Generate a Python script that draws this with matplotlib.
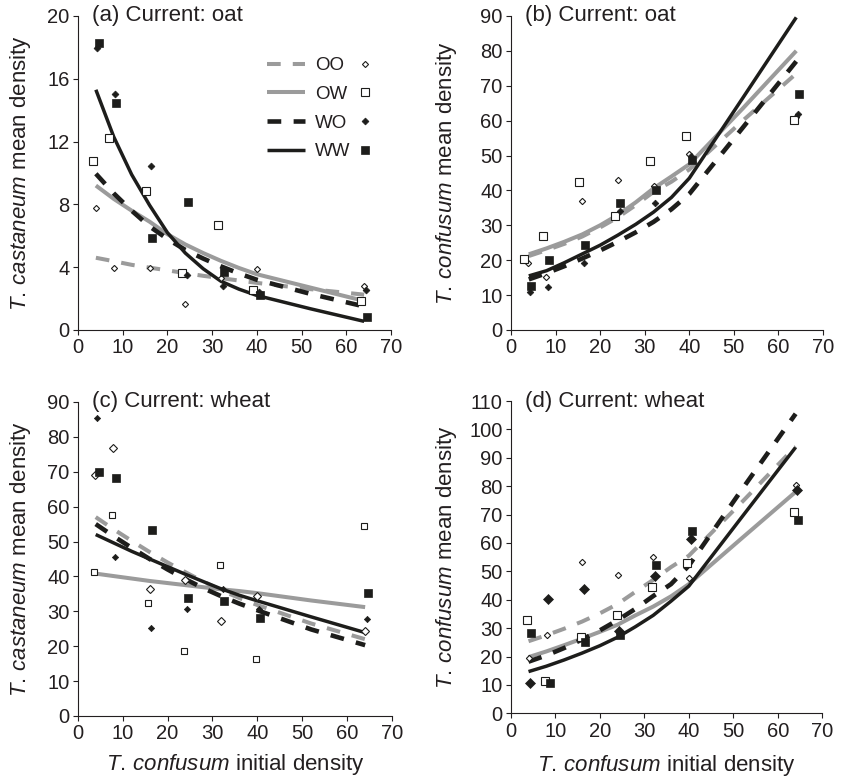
import matplotlib
matplotlib.use('Agg')
import matplotlib.pyplot as plt
from matplotlib.lines import Line2D

plt.rcParams['font.family'] = ['Liberation Sans', 'DejaVu Sans']
plt.rcParams['mathtext.fontset'] = 'custom'
plt.rcParams['mathtext.it'] = 'Liberation Sans:italic'
plt.rcParams['mathtext.rm'] = 'Liberation Sans'

# ---------------- data ----------------
treatments = ['OO', 'OW', 'WO', 'WW']
line_x = [4, 8, 12, 16, 20, 24, 28, 32, 36, 40, 52, 64]

# panel (a): T. castaneum, current oat
a_OO_x = [4.0, 8.0, 16.0, 24.0, 32.0, 40.0, 64.0]
a_OO_y = [7.75, 3.97, 3.97, 1.68, 3.3, 3.9, 2.82]
a_OW_x = [3.35, 7.0, 15.3, 23.2, 31.3, 39.2, 63.3]
a_OW_y = [10.76, 12.25, 8.87, 3.65, 6.67, 2.53, 1.87]
a_WO_x = [4.2, 8.3, 16.3, 24.3, 32.4, 40.4, 64.4]
a_WO_y = [17.94, 15.05, 10.47, 3.48, 2.8, 2.4, 2.55]
a_WW_x = [4.6, 8.6, 16.6, 24.6, 32.7, 40.7, 64.7]
a_WW_y = [18.26, 14.44, 5.88, 8.17, 3.71, 2.21, 0.81]
a_OO_fit = [4.6, 4.38, 4.15, 3.97, 3.8, 3.62, 3.45, 3.3, 3.15, 3.0, 2.6, 2.25]
a_OW_fit = [9.2, 8.35, 7.6, 6.9, 6.1, 5.45, 4.9, 4.4, 3.95, 3.55, 2.7, 1.85]
a_WO_fit = [9.95, 8.7, 7.6, 6.6, 5.8, 5.1, 4.55, 4.05, 3.6, 3.2, 2.3, 1.5]
a_WW_fit = [15.3, 12.3, 9.9, 7.95, 6.2, 4.9, 3.9, 3.1, 2.6, 2.2, 1.35, 0.55]

# panel (b): T. confusum, current oat
b_OO_x = [3.8, 7.9, 16.0, 24.1, 32.0, 39.9, 64.0]
b_OO_y = [19.3, 15.3, 36.95, 42.86, 41.4, 50.3, 61.0]
b_OW_x = [3.0, 7.2, 15.3, 23.3, 31.2, 39.3, 63.4]
b_OW_y = [20.3, 26.95, 42.4, 32.7, 48.3, 55.5, 60.1]
b_WO_x = [4.2, 8.2, 16.3, 24.4, 32.4, 40.4, 64.4]
b_WO_y = [10.95, 12.4, 19.1, 34.0, 36.3, 49.8, 61.9]
b_WW_x = [4.6, 8.6, 16.5, 24.5, 32.6, 40.6, 64.6]
b_WW_y = [12.5, 20.0, 24.3, 36.5, 40.1, 48.7, 67.7]
b_OO_fit = [21.2, 22.9, 24.7, 26.8, 29.4, 32.3, 35.8, 39.6, 42.5, 46.0, 60.0, 73.5]
b_OW_fit = [21.7, 23.4, 25.3, 27.4, 30.0, 33.0, 36.6, 40.6, 44.0, 47.5, 63.5, 80.0]
b_WO_fit = [14.5, 16.3, 18.3, 20.5, 22.8, 25.3, 28.0, 31.0, 34.6, 39.0, 58.0, 77.0]
b_WW_fit = [15.5, 17.0, 19.3, 21.8, 24.3, 27.2, 30.3, 33.8, 38.0, 43.5, 66.5, 89.6]

# panel (c): T. castaneum, current wheat
c_OO_x = [3.85, 7.9, 16.0, 23.9, 31.9, 39.9, 64.0]
c_OO_y = [69.0, 76.8, 36.4, 38.9, 27.2, 34.3, 24.4]
c_OW_x = [3.7, 7.7, 15.7, 23.6, 31.7, 39.7, 63.7]
c_OW_y = [41.2, 57.7, 32.3, 18.5, 43.3, 16.2, 54.5]
c_WO_x = [4.4, 8.4, 16.3, 24.3, 32.3, 40.3, 64.4]
c_WO_y = [85.3, 45.5, 25.3, 30.8, 36.3, 30.8, 27.8]
c_WW_x = [4.7, 8.6, 16.5, 24.6, 32.5, 40.5, 64.6]
c_WW_y = [69.8, 68.3, 53.4, 33.7, 32.9, 28.0, 35.3]
c_OO_fit = [57.0, 53.5, 50.2, 47.0, 44.0, 41.2, 38.5, 36.0, 33.8, 31.8, 26.5, 22.0]
c_OW_fit = [40.8, 40.1, 39.4, 38.7, 38.1, 37.5, 36.9, 36.3, 35.8, 35.2, 33.1, 31.2]
c_WO_fit = [55.0, 51.5, 48.2, 45.0, 42.0, 39.2, 36.6, 34.3, 32.2, 30.3, 24.8, 20.3]
c_WW_fit = [52.0, 49.6, 47.2, 45.0, 42.8, 40.6, 38.5, 36.4, 34.6, 33.0, 28.4, 23.9]

# panel (d): T. confusum, current wheat
d_OO_x = [4.0, 8.1, 16.1, 24.0, 32.0, 40.0, 64.0]
d_OO_y = [19.4, 27.6, 53.2, 48.7, 54.9, 47.5, 80.4]
d_OW_x = [3.7, 7.8, 15.8, 23.8, 31.7, 39.6, 63.6]
d_OW_y = [33.0, 11.5, 27.0, 34.6, 44.6, 52.8, 70.9]
d_WO_x = [4.3, 8.4, 16.4, 24.4, 32.4, 40.4, 64.4]
d_WO_y = [10.6, 40.3, 43.9, 29.1, 48.5, 61.3, 78.5]
d_WW_x = [4.6, 8.8, 16.7, 24.6, 32.6, 40.7, 64.6]
d_WW_y = [28.3, 10.8, 25.2, 27.6, 52.4, 64.1, 68.2]
d_OO_fit = [25.4, 27.5, 29.8, 32.3, 35.2, 38.5, 42.8, 47.0, 51.5, 55.5, 74.5, 94.0]
d_OW_fit = [19.8, 21.8, 24.0, 26.3, 28.7, 31.2, 34.5, 37.6, 41.2, 45.5, 61.8, 78.0]
d_WO_fit = [18.2, 20.4, 23.0, 26.0, 29.2, 32.8, 36.8, 41.3, 45.5, 52.0, 79.0, 105.5]
d_WW_fit = [14.7, 16.6, 18.8, 21.2, 23.8, 26.8, 30.5, 34.5, 39.5, 44.8, 69.3, 93.7]

x_ticks = [0, 10, 20, 30, 40, 50, 60, 70]

panels = [
    dict(title='(a) Current: oat', sp='castaneum', ymax=20, ystep=4,
         pts={'OO': (a_OO_x, a_OO_y), 'OW': (a_OW_x, a_OW_y), 'WO': (a_WO_x, a_WO_y), 'WW': (a_WW_x, a_WW_y)},
         fit={'OO': a_OO_fit, 'OW': a_OW_fit, 'WO': a_WO_fit, 'WW': a_WW_fit}),
    dict(title='(b) Current: oat', sp='confusum', ymax=90, ystep=10,
         pts={'OO': (b_OO_x, b_OO_y), 'OW': (b_OW_x, b_OW_y), 'WO': (b_WO_x, b_WO_y), 'WW': (b_WW_x, b_WW_y)},
         fit={'OO': b_OO_fit, 'OW': b_OW_fit, 'WO': b_WO_fit, 'WW': b_WW_fit}),
    dict(title='(c) Current: wheat', sp='castaneum', ymax=90, ystep=10,
         pts={'OO': (c_OO_x, c_OO_y), 'OW': (c_OW_x, c_OW_y), 'WO': (c_WO_x, c_WO_y), 'WW': (c_WW_x, c_WW_y)},
         fit={'OO': c_OO_fit, 'OW': c_OW_fit, 'WO': c_WO_fit, 'WW': c_WW_fit}),
    dict(title='(d) Current: wheat', sp='confusum', ymax=110, ystep=10,
         pts={'OO': (d_OO_x, d_OO_y), 'OW': (d_OW_x, d_OW_y), 'WO': (d_WO_x, d_WO_y), 'WW': (d_WW_x, d_WW_y)},
         fit={'OO': d_OO_fit, 'OW': d_OW_fit, 'WO': d_WO_fit, 'WW': d_WW_fit}),
]

# ---------------- styles ----------------
GRAY = '#9b9b9b'
BLACK = '#1d1d1b'
TXT = '#231f20'
line_style = {
    'OO': dict(color=GRAY, lw=2.9, ls=(0, (3.4, 3.0)), dash_capstyle='butt'),
    'OW': dict(color=GRAY, lw=2.9, ls='-', solid_capstyle='butt'),
    'WO': dict(color=BLACK, lw=3.3, ls=(0, (3.0, 2.7)), dash_capstyle='butt'),
    'WW': dict(color=BLACK, lw=2.5, ls='-', solid_capstyle='butt'),
}
marker_style = {
    'OO': dict(marker='D', mfc='white', mec=BLACK, mew=0.8),
    'OW': dict(marker='s', mfc='white', mec=BLACK, mew=0.8),
    'WO': dict(marker='D', mfc=BLACK, mec=BLACK, mew=0.5),
    'WW': dict(marker='s', mfc=BLACK, mec=BLACK, mew=0.5),
}
marker_size = [
    {'OO': 3.1, 'OW': 5.3, 'WO': 3.5, 'WW': 5.8},
    {'OO': 3.2, 'OW': 5.3, 'WO': 3.4, 'WW': 5.8},
    {'OO': 4.2, 'OW': 4.8, 'WO': 3.2, 'WW': 5.8},
    {'OO': 3.2, 'OW': 5.3, 'WO': 5.1, 'WW': 5.6},
]
axes_rects = [
    [0.0923, 0.5764, 0.3704, 0.4031],
    [0.6047, 0.5764, 0.3693, 0.4031],
    [0.0920, 0.0809, 0.3720, 0.4031],
    [0.6044, 0.0843, 0.3688, 0.4009],
]
ylabel_x = [-0.185, -0.205, -0.183, -0.205]
xlabel_y = [None, None, -0.156, -0.166]

fig = plt.figure(figsize=(8.45, 7.79), dpi=100)
FS_TICK = 14.5
FS_LAB = 16
FS_LEG = 13.5


def species(name):
    return r'$\mathit{T.\,' + name + r'}$'


for i, p in enumerate(panels):
    ax = fig.add_axes(axes_rects[i])
    for t in treatments:
        ax.plot(line_x, p['fit'][t], **line_style[t], zorder=2)
    for t in treatments:
        xs, ys = p['pts'][t]
        ax.plot(xs, ys, ls='none', ms=marker_size[i][t], **marker_style[t], zorder=3)
    ax.set_xlim(0, 70)
    ax.set_ylim(0, p['ymax'])
    ax.set_xticks(x_ticks)
    ax.set_yticks(list(range(0, p['ymax'] + 1, p['ystep'])))
    for s in ['top', 'right']:
        ax.spines[s].set_visible(False)
    for s in ['left', 'bottom']:
        ax.spines[s].set_linewidth(0.8)
        ax.spines[s].set_color(TXT)
    ax.tick_params(direction='out', length=3.5, width=0.8, colors=TXT,
                   labelsize=FS_TICK, pad=2.5)
    ax.set_ylabel(species(p['sp']) + ' mean density', fontsize=FS_LAB, color=TXT)
    ax.yaxis.label.set_va('center')
    ax.yaxis.set_label_coords(ylabel_x[i], 0.5)
    if xlabel_y[i] is not None:
        ax.set_xlabel(species('confusum') + ' initial density', fontsize=FS_LAB, color=TXT)
        ax.xaxis.set_label_coords(0.5, xlabel_y[i])
        ax.xaxis.label.set_va('center')
    ax.text(0.045, 1.0, p['title'], transform=ax.transAxes, ha='left', va='center',
            fontsize=FS_LAB, color=TXT)

    if i == 0:
        lh = [Line2D([], [], **line_style[t]) for t in treatments]
        mh = [Line2D([], [], ls='none', ms=marker_size[0][t], **marker_style[t]) for t in treatments]
        leg1 = ax.legend(lh, treatments, loc='upper left', bbox_to_anchor=(0.604, 0.869),
                         frameon=False, fontsize=FS_LEG, handlelength=2.03, handletextpad=0.53,
                         labelspacing=0.62, borderpad=0, borderaxespad=0)
        for txt in leg1.get_texts():
            txt.set_color(TXT)
        ax.add_artist(leg1)
        ax.legend(mh, [''] * 4, loc='upper left', bbox_to_anchor=(0.887, 0.869),
                  frameon=False, fontsize=FS_LEG, handlelength=1.0, handletextpad=0.0,
                  labelspacing=0.62, borderpad=0, borderaxespad=0)

fig.savefig('out.png', dpi=100)
